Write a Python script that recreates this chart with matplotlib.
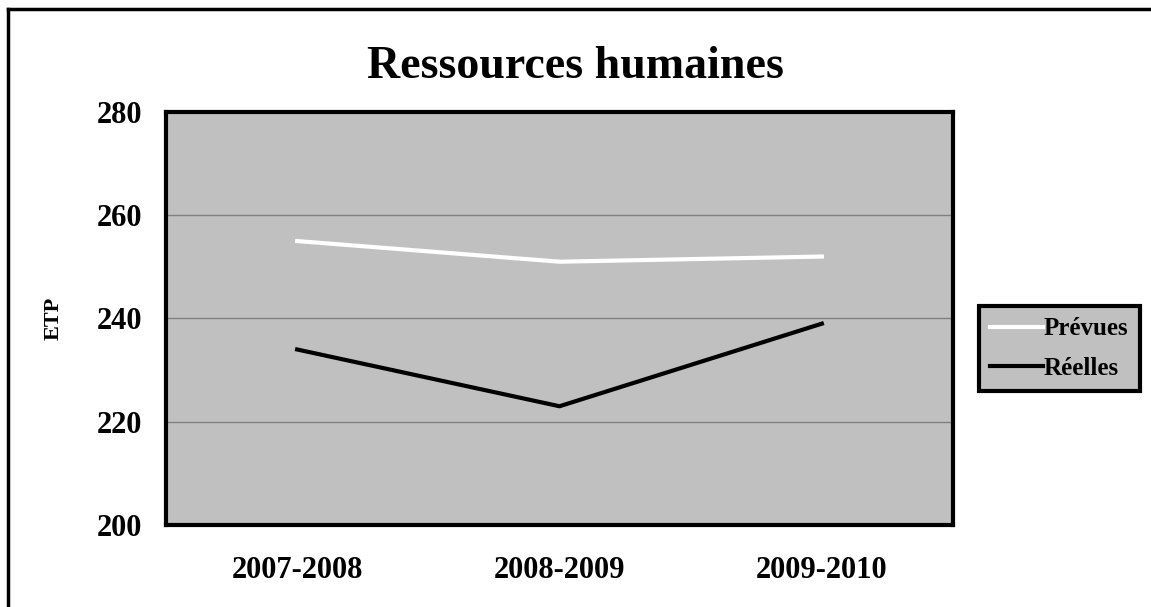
import matplotlib
matplotlib.use("Agg")
import matplotlib.pyplot as plt
from matplotlib.lines import Line2D

# data
periods = ["2007-2008", "2008-2009", "2009-2010"]
prevues = [255, 251, 252]
reelles = [234, 223, 239]
yticks = [200, 220, 240, 260, 280]

plt.rcParams['font.family'] = ['Liberation Serif', 'DejaVu Serif']
plt.rcParams['font.weight'] = 'bold'

fig = plt.figure(figsize=(11.51, 6.07), dpi=100)
ax = fig.add_axes([0.1442, 0.1351, 0.6838, 0.6804])
ax.set_facecolor('#c0c0c0')

x = range(len(periods))
ax.plot(x, prevues, color='white', lw=3, label='Prévues', zorder=3)
ax.plot(x, reelles, color='black', lw=3, label='Réelles', zorder=3)

ax.set_xlim(-0.5, len(periods) - 0.5)
ax.set_ylim(200, 280)
ax.set_yticks(yticks)
ax.set_xticks(list(x))
ax.set_xticklabels(periods)
ax.tick_params(axis='y', length=0, pad=17, labelsize=22)
ax.tick_params(axis='x', length=0, pad=22, labelsize=22)
ax.yaxis.grid(True, color='#808080', lw=1)
ax.set_axisbelow(True)
for s in ax.spines.values():
    s.set_linewidth(3)
    s.set_color('black')

ax.set_ylabel('ETP', fontsize=16, fontweight='bold')
ax.yaxis.set_label_coords(-0.1296, 0.5)

fig.text(0.5, 1 - 78 / 607, 'Ressources humaines', ha='center', va='baseline',
         fontsize=33, fontweight='bold')

leg = fig.legend(loc='center left', bbox_to_anchor=(979 / 1151, 0.426),
                 fontsize=18, handlelength=2.1, handletextpad=0.05,
                 fancybox=False, framealpha=1, borderpad=0.45,
                 labelspacing=0.65, borderaxespad=0)
leg.get_frame().set_facecolor('#c0c0c0')
leg.get_frame().set_edgecolor('black')
leg.get_frame().set_linewidth(3)

# outer chart border (top and left only, right/bottom cropped)
fig.add_artist(Line2D([8 / 1151, 1.0], [1 - 9 / 607, 1 - 9 / 607],
                      transform=fig.transFigure, color='black', lw=2.5))
fig.add_artist(Line2D([8 / 1151, 8 / 1151], [0.0, 1 - 9 / 607],
                      transform=fig.transFigure, color='black', lw=2.5))

fig.savefig('out.png', dpi=100)
